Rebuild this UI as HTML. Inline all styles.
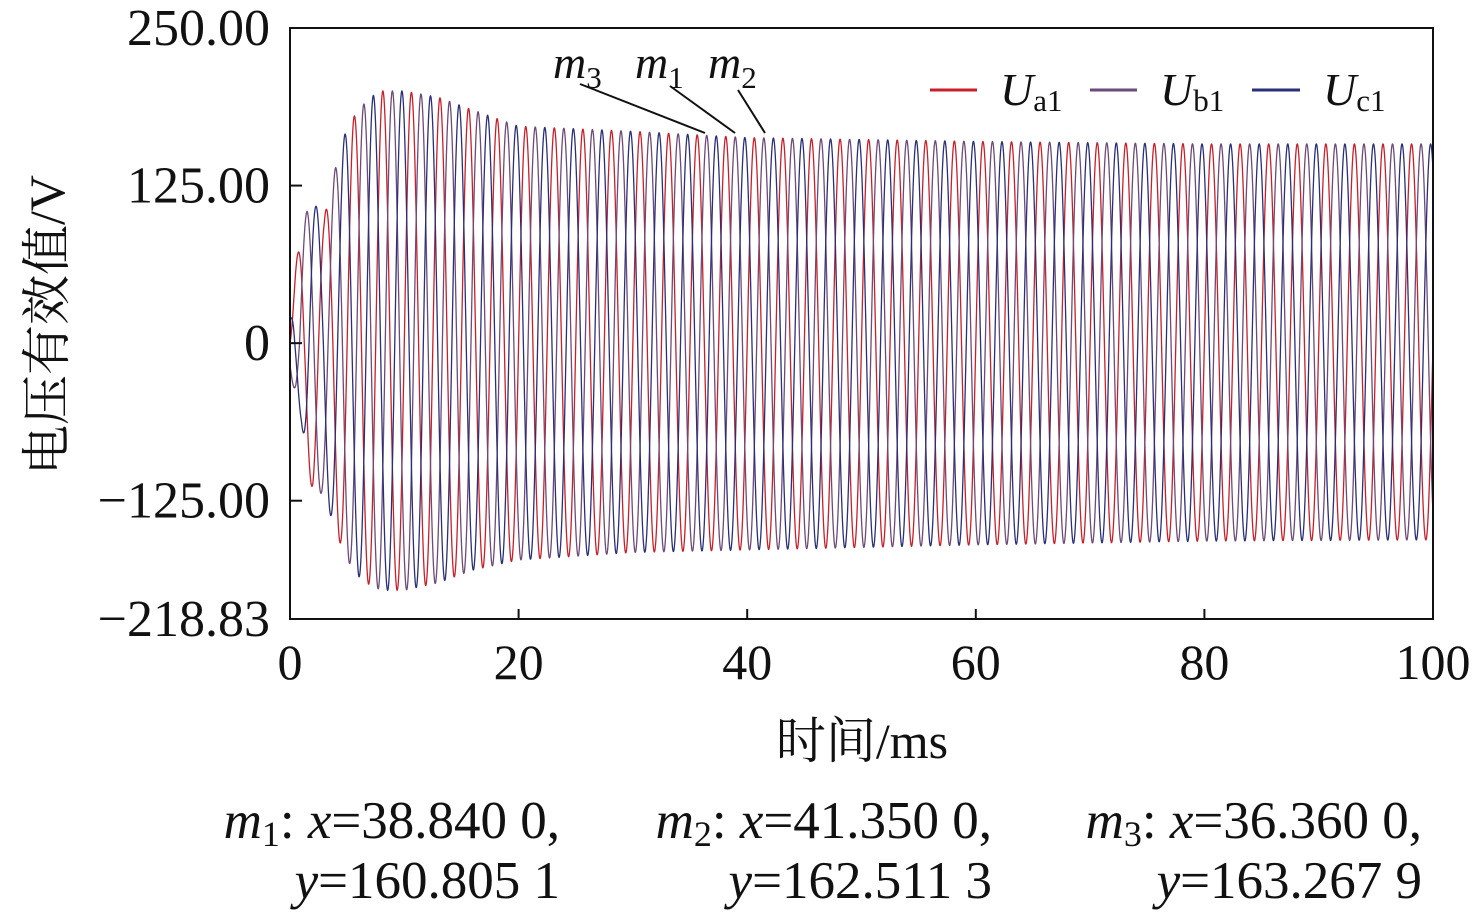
<!DOCTYPE html>
<html><head><meta charset="utf-8">
<style>
body{margin:0;background:#fff;}
svg text{font-family:"Liberation Serif","Noto Serif CJK SC",serif;fill:#111;}
</style></head>
<body>
<svg id="chart" width="1476" height="917" viewBox="0 0 1476 917">
<g id="series"></g>
<rect x="290" y="28" width="1143" height="591" fill="none" stroke="#111" stroke-width="2"/>
<g id="axes"></g>
<text x="862" y="758" font-size="50" text-anchor="middle">时间/ms</text>
<text transform="translate(64,325) rotate(-90)" font-size="50" text-anchor="middle">电压有效值/V</text>
<g>
<line x1="930" y1="90" x2="977" y2="90" stroke="#c8202a" stroke-width="3"/>
<text x="1000" y="105" font-size="46" font-style="italic">U<tspan font-size="31" font-style="normal" dy="6">a1</tspan></text>
<line x1="1090" y1="90" x2="1137" y2="90" stroke="#6e4a78" stroke-width="3"/>
<text x="1160" y="105" font-size="46" font-style="italic">U<tspan font-size="31" font-style="normal" dy="6">b1</tspan></text>
<line x1="1252" y1="90" x2="1300" y2="90" stroke="#2a2f78" stroke-width="3"/>
<text x="1323" y="105" font-size="46" font-style="italic">U<tspan font-size="31" font-style="normal" dy="6">c1</tspan></text>
</g>
<g stroke="#111" stroke-width="2">
<line x1="580" y1="84" x2="705" y2="133"/>
<line x1="670" y1="86" x2="735" y2="133"/>
<line x1="738" y1="90" x2="765" y2="133"/>
</g>
<g font-size="46" font-style="italic">
<text x="553" y="78">m<tspan font-size="31" font-style="normal" dy="10">3</tspan></text>
<text x="635" y="78">m<tspan font-size="31" font-style="normal" dy="10">1</tspan></text>
<text x="708" y="78">m<tspan font-size="31" font-style="normal" dy="10">2</tspan></text>
</g>
<g font-size="53">
<text x="560" y="838" text-anchor="end"><tspan font-style="italic">m</tspan><tspan font-size="36" dy="8">1</tspan><tspan dy="-8">: </tspan><tspan font-style="italic">x</tspan>=38.840 0,</text>
<text x="560" y="898" text-anchor="end"><tspan font-style="italic">y</tspan>=160.805 1</text>
<text x="992" y="838" text-anchor="end"><tspan font-style="italic">m</tspan><tspan font-size="36" dy="8">2</tspan><tspan dy="-8">: </tspan><tspan font-style="italic">x</tspan>=41.350 0,</text>
<text x="992" y="898" text-anchor="end"><tspan font-style="italic">y</tspan>=162.511 3</text>
<text x="1422" y="838" text-anchor="end"><tspan font-style="italic">m</tspan><tspan font-size="36" dy="8">3</tspan><tspan dy="-8">: </tspan><tspan font-style="italic">x</tspan>=36.360 0,</text>
<text x="1422" y="898" text-anchor="end"><tspan font-style="italic">y</tspan>=163.267 9</text>
</g>
</svg>
<script>
const xTicks=[0,20,40,60,80,100];
const xTickLabels=["0","20","40","60","80","100"];
const yTicks=[250,125,0,-125,-218.83];
const yTickLabels=["250.00","125.00","0","−125.00","−218.83"];
const envT=[0,0.5,1,1.5,2,3,4,5,6,7,8,10,13,16,20,30,40,60,80,100];
const envPos=[20,60,92,105,112,100,140,172,185,195,200,200,195,185,172,168,163,160,158,158];
const envNeg=[-20,-45,-62,-100,-117,-120,-150,-172,-185,-192,-196,-196,-190,-180,-172,-166,-164,-160,-157,-156];
const freqHz=[400];
const phasesDeg=[0,-120,120];
const seriesColors=["#c8202a","#6e4a78","#2a2f78"];
const seriesNames=["ua1","ub1","uc1"];
const X0=290,X1=1433,Y0=619,Y1=28,YMIN=-218.83,YMAX=250;
const xs=v=>X0+(v-0)/(100-0)*(X1-X0);
const ys=v=>Y0-(v-YMIN)/(YMAX-YMIN)*(Y0-Y1);
const NS="http://www.w3.org/2000/svg";
const axes=document.getElementById('axes');
function env(t,arr){for(let i=1;i<envT.length;i++){if(t<=envT[i]){const f=(t-envT[i-1])/(envT[i]-envT[i-1]);return arr[i-1]+f*(arr[i]-arr[i-1]);}}return arr[arr.length-1];}
xTicks.forEach((v,i)=>{
 const l=document.createElementNS(NS,'line');
 l.setAttribute('x1',xs(v));l.setAttribute('x2',xs(v));l.setAttribute('y1',Y0);l.setAttribute('y2',Y0-10);
 l.setAttribute('stroke','#111');l.setAttribute('stroke-width','2');
 
 
 axes.appendChild(l);
 const t=document.createElementNS(NS,'text');
 t.setAttribute('x',xs(v));t.setAttribute('y',679);t.setAttribute('font-size','50');t.setAttribute('text-anchor','middle');
 t.textContent=xTickLabels[i];
 
 
 axes.appendChild(t);
});
yTicks.forEach((v,i)=>{
 const l=document.createElementNS(NS,'line');
 l.setAttribute('x1',X0);l.setAttribute('x2',X0+12);l.setAttribute('y1',ys(v));l.setAttribute('y2',ys(v));
 l.setAttribute('stroke','#111');l.setAttribute('stroke-width','2');
 
 
 axes.appendChild(l);
 const t=document.createElementNS(NS,'text');
 t.setAttribute('x',270);t.setAttribute('y',ys(v)+17);t.setAttribute('font-size','52');t.setAttribute('text-anchor','end');
 t.textContent=yTickLabels[i];
 
 
 axes.appendChild(t);
});
const sg=document.getElementById('series');
phasesDeg.forEach((ph,k)=>{
 let d='';
 const N=6000;
 for(let i=0;i<=N;i++){
  const t=100*i/N;
  const s=Math.sin(2*Math.PI*freqHz[0]*t/1000+ph*Math.PI/180);
  const v=s>=0?s*env(t,envPos):-s*env(t,envNeg);
  d+=(i?'L':'M')+xs(t).toFixed(2)+' '+ys(v).toFixed(2);
 }
 const p=document.createElementNS(NS,'path');
 p.setAttribute('d',d);p.setAttribute('fill','none');p.setAttribute('stroke',seriesColors[k]);p.setAttribute('stroke-width','1.3');
 
 
 sg.appendChild(p);
});
</script>
</body></html>
